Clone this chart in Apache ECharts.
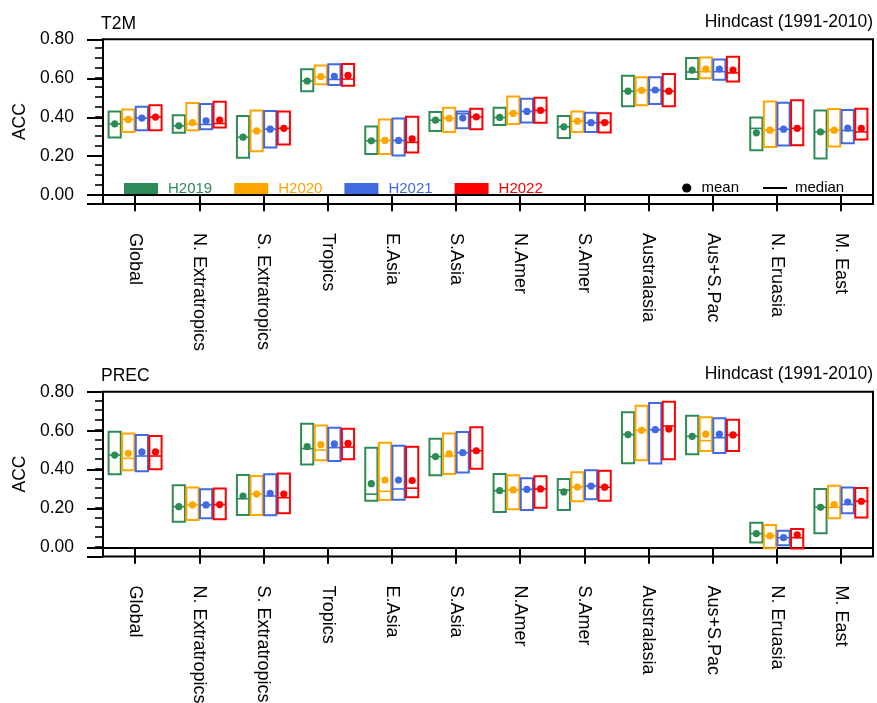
<!DOCTYPE html>
<html>
<head>
<meta charset="utf-8">
<script src="https://cdn.jsdelivr.net/npm/echarts@6/dist/echarts.min.js"></script>
<style>html,body{margin:0;padding:0;background:#fff}#c{width:877px;height:703px}</style>
</head>
<body>
<div id="c"></div>
<script>
const categories = ['Global','N. Extratropics','S. Extratropics','Tropics','E.Asia','S.Asia','N.Amer','S.Amer','Australasia','Aus+S.Pac','N. Eruasia','M. East'];
const models = ['H2019','H2020','H2021','H2022'];
const colors = ['#2E8B57','#FFA500','#4169E1','#FF0000'];
const yLabelValues = [0, 0.2, 0.4, 0.6, 0.8];

// T2M
const t2m_H2019_low    = [0.296,0.320,0.192,0.534,0.212,0.330,0.360,0.294,0.457,0.596,0.231,0.189];
const t2m_H2019_high   = [0.430,0.410,0.406,0.646,0.353,0.427,0.449,0.406,0.613,0.704,0.399,0.435];
const t2m_H2019_mean   = [0.366,0.356,0.298,0.586,0.279,0.385,0.399,0.351,0.534,0.642,0.320,0.325];
const t2m_H2019_median = [0.366,0.356,0.298,0.586,0.279,0.385,0.399,0.351,0.534,0.632,0.343,0.325];

const t2m_H2020_low    = [0.324,0.334,0.226,0.569,0.211,0.325,0.366,0.324,0.462,0.600,0.247,0.250];
const t2m_H2020_high   = [0.440,0.473,0.435,0.666,0.389,0.449,0.507,0.430,0.605,0.706,0.481,0.442];
const t2m_H2020_mean   = [0.389,0.373,0.330,0.608,0.281,0.394,0.420,0.380,0.538,0.647,0.334,0.334];
const t2m_H2020_median = [0.389,0.365,0.330,0.606,0.281,0.394,0.420,0.380,0.538,0.634,0.334,0.334];

const t2m_H2021_low    = [0.334,0.338,0.245,0.565,0.204,0.343,0.373,0.324,0.468,0.593,0.255,0.267];
const t2m_H2021_high   = [0.454,0.468,0.432,0.672,0.394,0.430,0.495,0.423,0.605,0.697,0.474,0.437];
const t2m_H2021_mean   = [0.396,0.382,0.339,0.610,0.281,0.396,0.430,0.372,0.540,0.647,0.339,0.344];
const t2m_H2021_median = [0.396,0.363,0.339,0.594,0.281,0.418,0.430,0.372,0.540,0.634,0.339,0.332];

const t2m_H2022_low    = [0.334,0.348,0.260,0.562,0.219,0.338,0.372,0.322,0.456,0.584,0.257,0.286];
const t2m_H2022_high   = [0.461,0.479,0.430,0.673,0.402,0.444,0.500,0.420,0.622,0.711,0.487,0.444];
const t2m_H2022_mean   = [0.401,0.385,0.343,0.615,0.289,0.402,0.435,0.373,0.534,0.642,0.343,0.343];
const t2m_H2022_median = [0.401,0.368,0.343,0.596,0.271,0.402,0.435,0.373,0.534,0.628,0.343,0.325];

// PREC
const prec_H2019_low    = [0.376,0.133,0.168,0.426,0.241,0.371,0.183,0.193,0.433,0.479,0.026,0.074];
const prec_H2019_high   = [0.595,0.320,0.373,0.636,0.513,0.559,0.378,0.352,0.694,0.677,0.128,0.301];
const prec_H2019_mean   = [0.475,0.210,0.265,0.518,0.328,0.467,0.292,0.286,0.580,0.571,0.072,0.207];
const prec_H2019_median = [0.475,0.210,0.251,0.508,0.274,0.467,0.292,0.296,0.580,0.571,0.072,0.207];

const prec_H2020_low    = [0.397,0.142,0.168,0.448,0.245,0.378,0.197,0.238,0.448,0.496,-0.003,0.151];
const prec_H2020_high   = [0.585,0.308,0.368,0.626,0.538,0.585,0.371,0.387,0.728,0.669,0.116,0.318];
const prec_H2020_mean   = [0.484,0.219,0.275,0.528,0.347,0.481,0.296,0.311,0.602,0.582,0.060,0.221];
const prec_H2020_median = [0.458,0.219,0.275,0.501,0.289,0.470,0.296,0.311,0.602,0.549,0.060,0.207];

const prec_H2021_low    = [0.392,0.151,0.166,0.445,0.246,0.385,0.193,0.248,0.431,0.486,0.012,0.176];
const prec_H2021_high   = [0.578,0.299,0.376,0.615,0.523,0.593,0.356,0.397,0.742,0.664,0.086,0.308];
const prec_H2021_mean   = [0.491,0.219,0.279,0.532,0.347,0.487,0.299,0.316,0.605,0.582,0.051,0.234];
const prec_H2021_median = [0.470,0.219,0.265,0.513,0.301,0.487,0.299,0.316,0.605,0.564,0.051,0.222];

const prec_H2022_low    = [0.402,0.146,0.176,0.453,0.258,0.405,0.205,0.241,0.453,0.496,-0.005,0.154];
const prec_H2022_high   = [0.573,0.303,0.380,0.610,0.518,0.617,0.366,0.395,0.749,0.656,0.096,0.306];
const prec_H2022_mean   = [0.491,0.221,0.275,0.535,0.344,0.497,0.301,0.310,0.609,0.578,0.065,0.238];
const prec_H2022_median = [0.470,0.221,0.256,0.516,0.305,0.497,0.301,0.310,0.624,0.578,0.051,0.238];

const panels = [
  [[t2m_H2019_low,t2m_H2019_median,t2m_H2019_high,t2m_H2019_mean],
   [t2m_H2020_low,t2m_H2020_median,t2m_H2020_high,t2m_H2020_mean],
   [t2m_H2021_low,t2m_H2021_median,t2m_H2021_high,t2m_H2021_mean],
   [t2m_H2022_low,t2m_H2022_median,t2m_H2022_high,t2m_H2022_mean]],
  [[prec_H2019_low,prec_H2019_median,prec_H2019_high,prec_H2019_mean],
   [prec_H2020_low,prec_H2020_median,prec_H2020_high,prec_H2020_mean],
   [prec_H2021_low,prec_H2021_median,prec_H2021_high,prec_H2021_mean],
   [prec_H2022_low,prec_H2022_median,prec_H2022_high,prec_H2022_mean]]
];

const FONT = "'Liberation Sans', Arial, Helvetica, sans-serif";
const YMIN = -0.045, YMAX = 0.8;

const chart = echarts.init(document.getElementById('c'), null, {renderer: 'canvas'});

function makeSeries(p, k) {
  const arrs = panels[p][k];
  const color = colors[k];
  return {
    type: 'custom',
    name: models[k],
    xAxisIndex: p,
    yAxisIndex: p * 2,
    itemStyle: {color: color},
    encode: {x: 0, y: [1, 2, 3, 4]},
    data: categories.map((c, i) => [i, arrs[0][i], arrs[1][i], arrs[2][i], arrs[3][i]]),
    renderItem: function (params, api) {
      const i = api.value(0);
      const band = api.size([1, 0])[0];
      const pl = api.coord([i, api.value(1)]);
      const pm = api.coord([i, api.value(2)]);
      const ph = api.coord([i, api.value(3)]);
      const pa = api.coord([i, api.value(4)]);
      const cx = pl[0] + (k - 1.5) * band * 0.212;
      const w = band * 0.19;
      return {
        type: 'group',
        children: [
          {type: 'rect', shape: {x: cx - w / 2, y: ph[1], width: w, height: pl[1] - ph[1]},
           style: {fill: 'rgba(0,0,0,0)', stroke: color, lineWidth: 2}},
          {type: 'line', shape: {x1: cx - w / 2, y1: pm[1], x2: cx + w / 2, y2: pm[1]},
           style: {stroke: color, lineWidth: 1.6}},
          {type: 'circle', shape: {cx: cx, cy: pa[1], r: 3.6}, style: {fill: color}}
        ]
      };
    }
  };
}

const series = [];
for (let p = 0; p < 2; p++) for (let k = 0; k < 4; k++) series.push(makeSeries(p, k));

const grids = [
  {left: 103, right: 4, top: 39.3, height: 164.7, show: true, borderColor: '#000', borderWidth: 2, outerBoundsMode: 'none'},
  {left: 103, right: 4, top: 391.7, height: 164.7, show: true, borderColor: '#000', borderWidth: 2, outerBoundsMode: 'none'}
];

function xAxisFor(g) {
  return {
    type: 'category', gridIndex: g, data: categories, boundaryGap: true,
    axisLine: {show: true, lineStyle: {color: '#000', width: 2}},
    axisTick: {show: true, alignWithLabel: true, length: 16, lineStyle: {color: '#000', width: 2}},
    axisLabel: {show: true, interval: 0, rotate: -90, margin: 29, fontSize: 18, color: '#000', fontFamily: FONT},
    splitLine: {show: false}
  };
}
function yMain(g) {
  return {
    type: 'value', gridIndex: g, min: YMIN, max: YMAX, position: 'left',
    name: 'ACC', nameLocation: 'middle', nameGap: 70, nameRotate: 90,
    nameTextStyle: {fontSize: 17.5, color: '#000', fontFamily: FONT},
    axisLine: {show: true, lineStyle: {color: '#000', width: 2}},
    axisTick: {show: true, length: 16, customValues: [YMIN].concat(yLabelValues), lineStyle: {color: '#000', width: 2}},
    axisLabel: {show: true, customValues: yLabelValues, margin: 29, fontSize: 17.5, color: '#000', fontFamily: FONT,
                formatter: v => Number(v).toFixed(2)},
    splitLine: {show: false}
  };
}
function yMinor(g) {
  return {
    type: 'value', gridIndex: g, min: YMIN, max: YMAX, interval: 0.05, position: 'left',
    axisLine: {show: false},
    axisTick: {show: true, length: 8, lineStyle: {color: '#000', width: 1.6}},
    axisLabel: {show: false},
    splitLine: {show: false}
  };
}

const titleStyle = {fontSize: 17.5, fontWeight: 'normal', color: '#000', fontFamily: FONT};

chart.setOption({
  animation: false,
  backgroundColor: '#fff',
  textStyle: {fontFamily: FONT},
  title: [
    {text: 'T2M', left: 101, top: 15, padding: 0, textStyle: titleStyle},
    {text: 'Hindcast (1991-2010)', right: 4, top: 13, padding: 0, textStyle: titleStyle},
    {text: 'PREC', left: 101, top: 367, padding: 0, textStyle: titleStyle},
    {text: 'Hindcast (1991-2010)', right: 4, top: 365, padding: 0, textStyle: titleStyle}
  ],
  legend: {
    left: 124, top: 181, orient: 'horizontal', icon: 'rect',
    itemWidth: 34, itemHeight: 11, itemGap: 22, padding: 0,
    itemStyle: {borderWidth: 0},
    textStyle: {fontSize: 15, fontFamily: FONT, padding: [0, 0, 0, 5]},
    data: models.map((m, k) => ({name: m, textStyle: {color: colors[k]}}))
  },
  grid: grids,
  xAxis: [xAxisFor(0), xAxisFor(1)],
  yAxis: [yMain(0), yMinor(0), yMain(1), yMinor(1)],
  graphic: [
    {type: 'circle', shape: {cx: 686.7, cy: 188, r: 4.6}, style: {fill: '#000'}},
    {type: 'text', x: 701.5, y: 188, style: {text: 'mean', fontSize: 15, fontFamily: FONT, fill: '#000', verticalAlign: 'middle', align: 'left'}},
    {type: 'line', shape: {x1: 763, y1: 188, x2: 787, y2: 188}, style: {stroke: '#000', lineWidth: 2}},
    {type: 'text', x: 795, y: 188, style: {text: 'median', fontSize: 15, fontFamily: FONT, fill: '#000', verticalAlign: 'middle', align: 'left'}}
  ],
  series: series
});
</script>
</body>
</html>
